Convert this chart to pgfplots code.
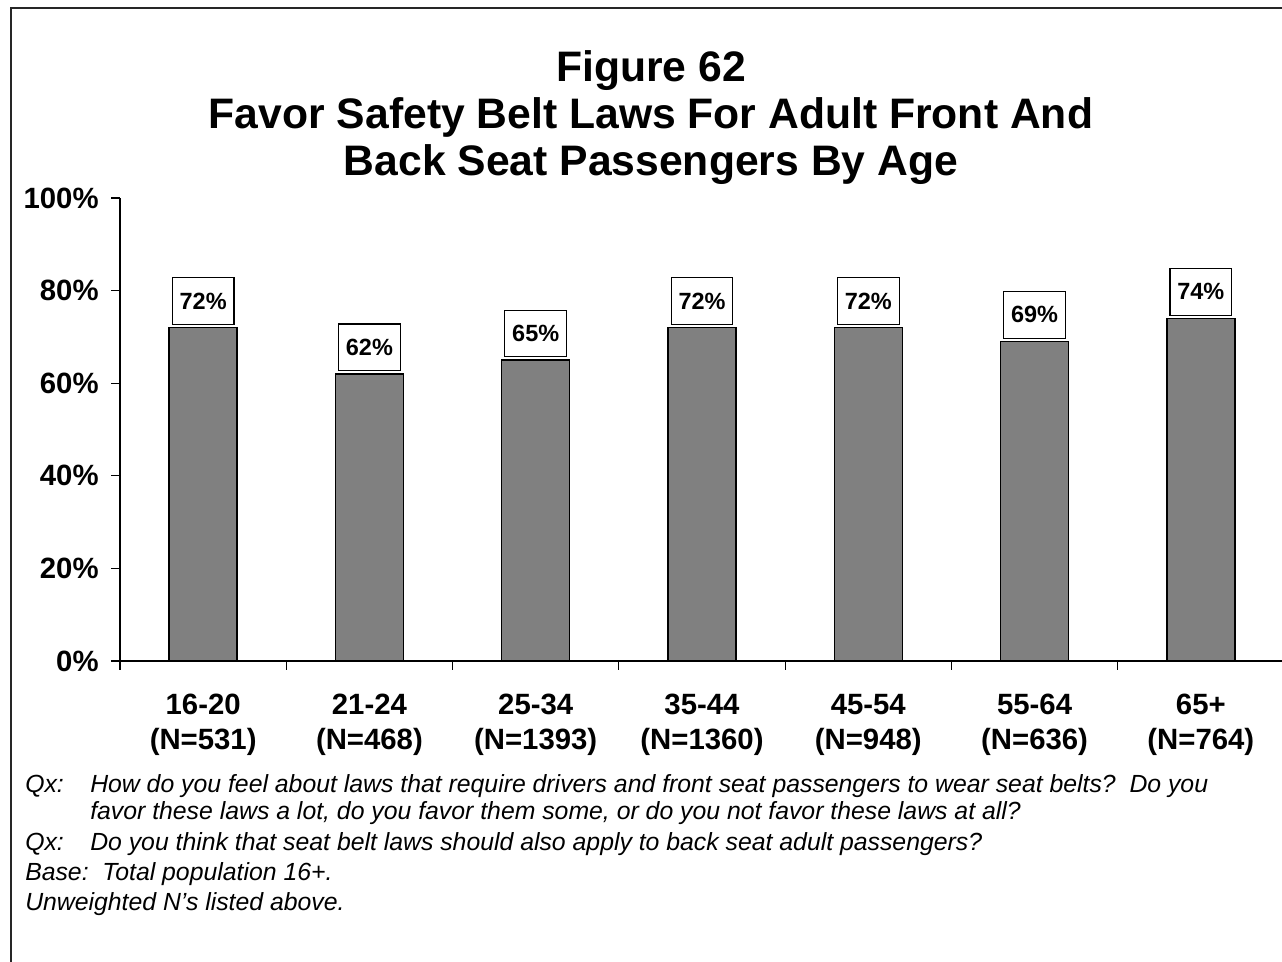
\documentclass[border=0pt]{standalone}
\usepackage{fontspec}
\setmainfont{Liberation Sans}
\usepackage{pgfplots}
\pgfplotsset{compat=1.18}
\begin{document}
\begin{tikzpicture}[x=0.75pt,y=0.75pt]
\useasboundingbox (0,0) rectangle (1282,962);
\draw[line width=1.1pt, black!85] (11,-20) -- (11,954) -- (1300,954);
\tikzset{ttl/.style={anchor=base, inner sep=0pt, font=\bfseries\fontsize{32}{36}\selectfont}}
\node[ttl] at (651,880) {Figure 62};
\node[ttl] at (651,833) {Favor Safety Belt Laws For Adult Front And};
\node[ttl] at (651,786) {Back Seat Passengers By Age};
\coordinate (axsw) at (120,301);
\begin{axis}[
  at={(axsw)}, anchor=south west, scale only axis,
  width=873pt, height=347.25pt,
  xmin=-0.5, xmax=6.5, ymin=0, ymax=100,
  axis x line*=bottom, axis y line*=left,
  axis line style={-, line width=0.9pt},
  ybar, bar width=51pt, bar shift=0pt,
  ytick={0,20,...,100},
  yticklabels={0\%,20\%,40\%,60\%,80\%,100\%},
  xtick={-0.5,0.5,1.5,2.5,3.5,4.5,5.5},
  xticklabels={{16-20\\(N=531)},{21-24\\(N=468)},{25-34\\(N=1393)},{35-44\\(N=1360)},{45-54\\(N=948)},{55-64\\(N=636)},{65+\\(N=764)}},
  xticklabel style={align=center, xshift=62.36pt, yshift=-15pt},
  tick align=outside, major tick length=6.5pt,
  tick style={black, line width=0.9pt},
  ticklabel style={font=\bfseries\fontsize{22}{26.25}\selectfont},
  yticklabel style={xshift=-6pt},
  nodes near coords={\pgfmathprintnumber{\pgfplotspointmeta}\%},
  /pgf/number format/assume math mode=true,
  every node near coord/.append style={draw=black, line width=0.9pt, fill=white, font=\bfseries\fontsize{17.6}{20}\selectfont, minimum height=35pt, inner xsep=5.5pt, anchor=south, yshift=2pt},
  clip=false,
]
\addplot[fill=gray, draw=black, line width=1pt] coordinates {(0,72) (1,62) (2,65) (3,72) (4,72) (5,69) (6,74)};
\end{axis}
\tikzset{fn/.style={anchor=base west, inner sep=0pt, font=\itshape\fontsize{18.6}{22}\selectfont}}
\node[fn] at (25,169) {Qx:};
\node[fn] at (90,169) {How do you feel about laws that require drivers and front seat passengers to wear seat belts?\ \ Do you};
\node[fn] at (90,142) {favor these laws a lot, do you favor them some, or do you not favor these laws at all?};
\node[fn] at (25,111) {Qx:};
\node[fn] at (90,111) {Do you think that seat belt laws should also apply to back seat adult passengers?};
\node[fn] at (25,81) {Base:\ \ Total population 16+.};
\node[fn] at (25,51) {Unweighted N’s listed above.};
\end{tikzpicture}
\end{document}
